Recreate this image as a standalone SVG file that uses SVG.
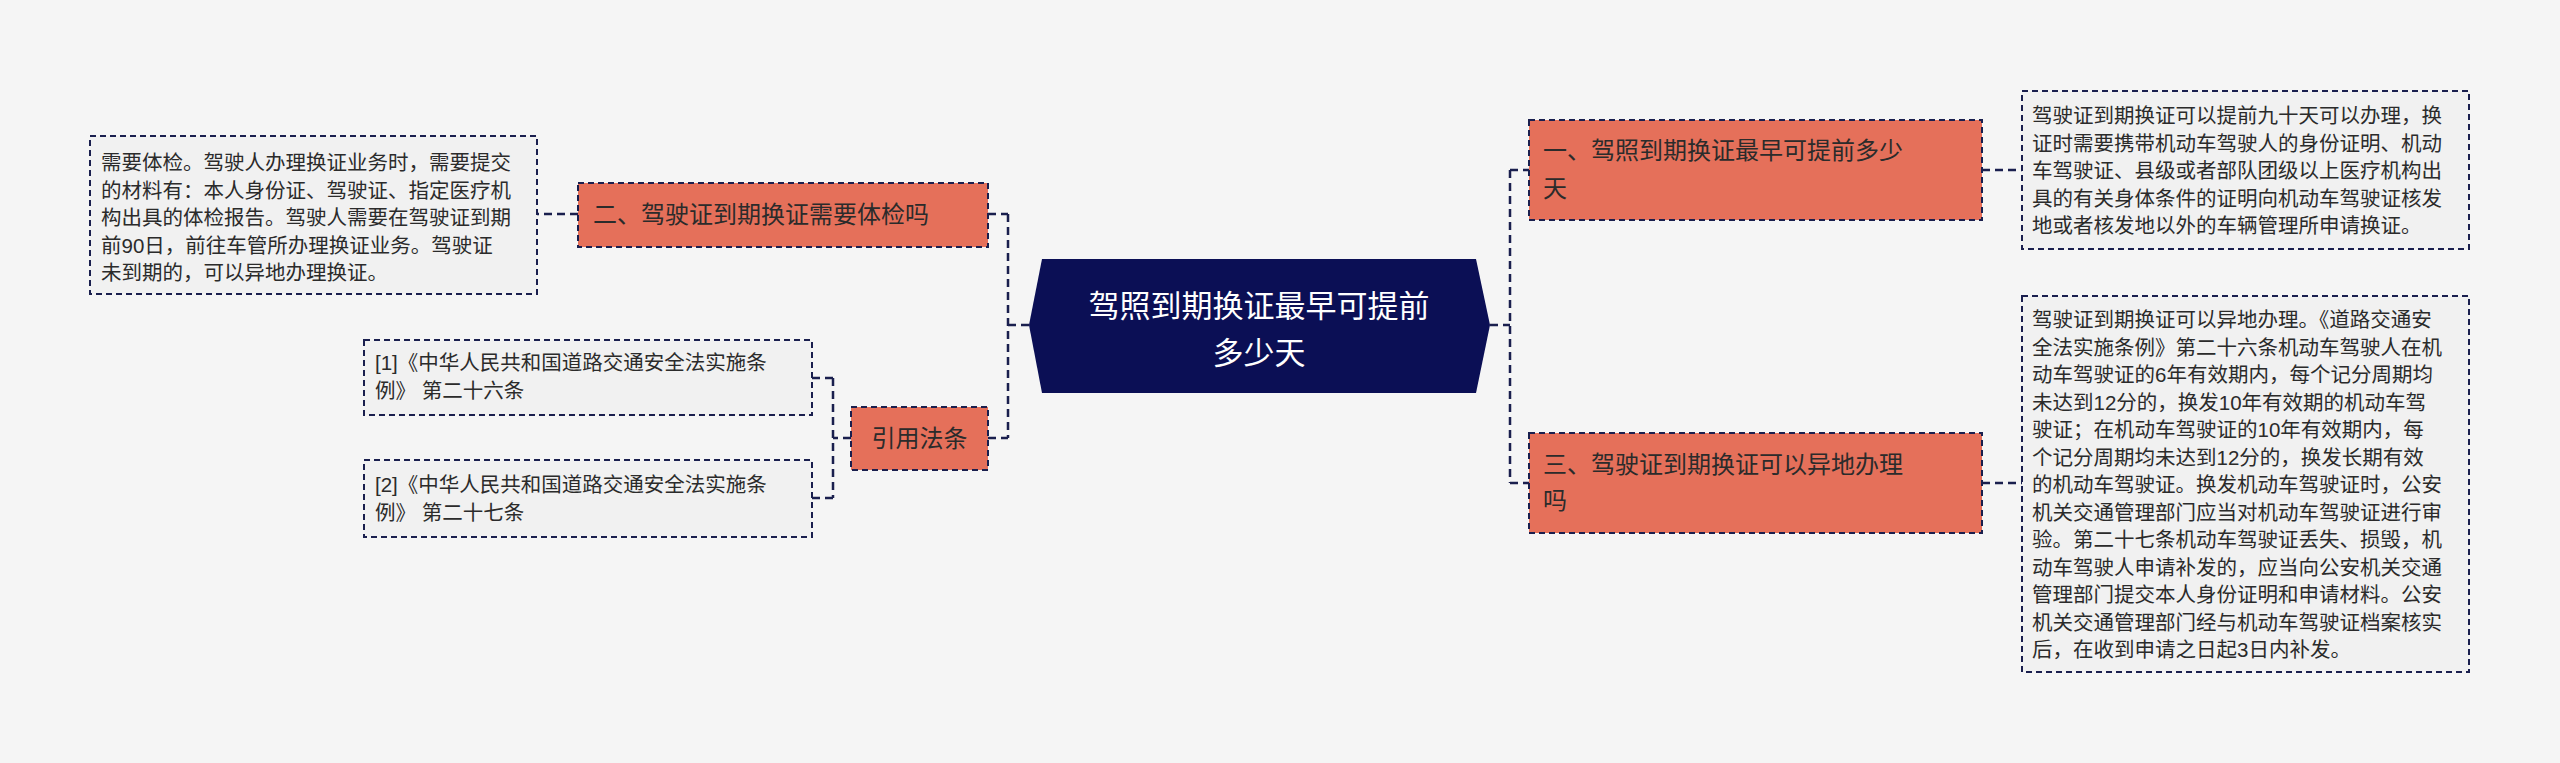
<svg xmlns="http://www.w3.org/2000/svg" width="2560" height="763" viewBox="0 0 2560 763">
<style>
.t{font-family:"Liberation Sans","Noto Sans CJK SC",sans-serif;fill:#2b2b2b}
.d{font-size:20.5px}
.o{fill:#e5705a;stroke:#1a1f4e;stroke-width:2;stroke-dasharray:6,4}
.b{fill:#f1f1f1;stroke:#1a1f4e;stroke-width:2;stroke-dasharray:6,4}
.c{fill:none;stroke:#1a1f4e;stroke-width:2.5;stroke-dasharray:8,5}
.m{font-size:24px}
</style>
<rect width="2560" height="763" fill="#f5f5f5"/>
<g id="connectors">
<path class="c" d="M1029 325H1008M1008 214V438M988 214H1008M988 438H1008"/>
<path class="c" d="M1490 325H1510M1510 170V483M1510 170H1529M1510 483H1529"/>
<path class="c" d="M1982 170H2022M1982 483H2022M578 214H537"/>
<path class="c" d="M851 438H833M833 378V498M812 378H833M812 498H833"/>
</g>
<g id="center">
<polygon points="1029,325 1042,259 1476,259 1490,325 1476,393 1042,393" fill="#0b0f55"/>
<text class="t" x="1259" y="317" font-size="31" text-anchor="middle" style="fill:#fff">驾照到期换证最早可提前</text>
<text class="t" x="1259" y="364" font-size="31" text-anchor="middle" style="fill:#fff">多少天</text>
</g>
<g id="n1">
<rect class="o" x="1529" y="120" width="453" height="100"/>
<text class="t m" x="1543" y="159">一、驾照到期换证最早可提前多少</text>
<text class="t m" x="1543" y="197">天</text>
</g>
<g id="n1d">
<rect class="b" x="2022" y="91" width="447" height="158"/>
<text class="t d" x="2032" y="123">驾驶证到期换证可以提前九十天可以办理，换</text>
<text class="t d" x="2032" y="150.5">证时需要携带机动车驾驶人的身份证明、机动</text>
<text class="t d" x="2032" y="178">车驾驶证、县级或者部队团级以上医疗机构出</text>
<text class="t d" x="2032" y="205.5">具的有关身体条件的证明向机动车驾驶证核发</text>
<text class="t d" x="2032" y="233">地或者核发地以外的车辆管理所申请换证。</text>
</g>
<g id="n3">
<rect class="o" x="1529" y="433" width="453" height="100"/>
<text class="t m" x="1543" y="473">三、驾驶证到期换证可以异地办理</text>
<text class="t m" x="1543" y="509">吗</text>
</g>
<g id="n3d">
<rect class="b" x="2022" y="296" width="447" height="376"/>
<text class="t d" x="2032" y="327">驾驶证到期换证可以异地办理。《道路交通安</text>
<text class="t d" x="2032" y="354.5">全法实施条例》第二十六条机动车驾驶人在机</text>
<text class="t d" x="2032" y="382">动车驾驶证的6年有效期内，每个记分周期均</text>
<text class="t d" x="2032" y="409.5">未达到12分的，换发10年有效期的机动车驾</text>
<text class="t d" x="2032" y="437">驶证；在机动车驾驶证的10年有效期内，每</text>
<text class="t d" x="2032" y="464.5">个记分周期均未达到12分的，换发长期有效</text>
<text class="t d" x="2032" y="492">的机动车驾驶证。换发机动车驾驶证时，公安</text>
<text class="t d" x="2032" y="519.5">机关交通管理部门应当对机动车驾驶证进行审</text>
<text class="t d" x="2032" y="547">验。第二十七条机动车驾驶证丢失、损毁，机</text>
<text class="t d" x="2032" y="574.5">动车驾驶人申请补发的，应当向公安机关交通</text>
<text class="t d" x="2032" y="602">管理部门提交本人身份证明和申请材料。公安</text>
<text class="t d" x="2032" y="629.5">机关交通管理部门经与机动车驾驶证档案核实</text>
<text class="t d" x="2032" y="657">后，在收到申请之日起3日内补发。</text>
</g>
<g id="n2">
<rect class="o" x="578" y="183" width="410" height="64"/>
<text class="t m" x="593" y="223">二、驾驶证到期换证需要体检吗</text>
</g>
<g id="n2d">
<rect class="b" x="90" y="136" width="447" height="158"/>
<text class="t d" x="101" y="170">需要体检。驾驶人办理换证业务时，需要提交</text>
<text class="t d" x="101" y="197.5">的材料有：本人身份证、驾驶证、指定医疗机</text>
<text class="t d" x="101" y="225">构出具的体检报告。驾驶人需要在驾驶证到期</text>
<text class="t d" x="101" y="252.5">前90日，前往车管所办理换证业务。驾驶证</text>
<text class="t d" x="101" y="280">未到期的，可以异地办理换证。</text>
</g>
<g id="n4">
<rect class="o" x="851" y="407" width="137" height="63"/>
<text class="t m" x="919.5" y="447" text-anchor="middle">引用法条</text>
</g>
<g id="r1">
<rect class="b" x="364" y="340" width="448" height="75"/>
<text class="t d" x="375" y="370">[1]《中华人民共和国道路交通安全法实施条</text>
<text class="t d" x="375" y="398">例》 第二十六条</text>
</g>
<g id="r2">
<rect class="b" x="364" y="460" width="448" height="77"/>
<text class="t d" x="375" y="492">[2]《中华人民共和国道路交通安全法实施条</text>
<text class="t d" x="375" y="520">例》 第二十七条</text>
</g>
</svg>
